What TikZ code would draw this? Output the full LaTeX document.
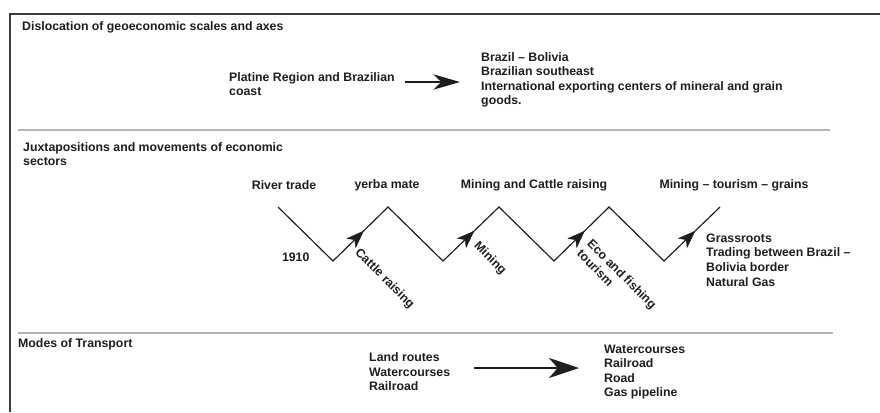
\documentclass[tikz,border=0pt]{standalone}
\usepackage{fontspec}
\setmainfont{Liberation Sans}
\usepackage{tikz}
\usetikzlibrary{positioning,arrows.meta,decorations.markings}
\definecolor{ink}{HTML}{1E1E1E}
\definecolor{rulegray}{HTML}{B4B4B4}
\definecolor{framegray}{HTML}{3A3A3A}
\tikzset{
  txt/.style={inner sep=0pt,align=left,text=ink,font=\bfseries\fontsize{10.5}{12.4}\selectfont},
  head/.style={txt,anchor=west},
  lst/.style={txt,anchor=west},
  diag/.style={txt,rotate=-45,anchor=north west},
  sep/.style={draw=rulegray,line width=1.4pt},
  edge/.style={draw=framegray,line width=1.8pt},
  zig/.style={draw=ink,line width=1pt,line join=miter},
  midar/.style={decoration={markings,mark=at position 0.56 with {\arrow[ink]{Stealth[length=5.4mm,width=4mm,inset=1.5mm]}}},decorate},
  bigar/.style={draw=ink,line width=1.3pt,-{Stealth[length=8mm,width=4.6mm,inset=2.4mm]}},
  fatar/.style={draw=ink,line width=2.2pt,-{Stealth[length=9mm,width=6mm,inset=2.6mm]}},
}

\begin{document}
\begin{tikzpicture}[x=0.03cm,y=-0.03cm,node distance=0.7cm]
\useasboundingbox (0,0) rectangle (880,412);
\draw[edge] (10,412) -- (10,14) -- (880,14);

% ---- Part 1: scales and axes ----
\node[head] (t1) at (22,27) {Dislocation of geoeconomic scales and axes};
\node[lst] (platine) at (229,84) {Platine Region and Brazilian\\coast};
\node[lst] (brazil) at (481,80) {Brazil -- Bolivia\\Brazilian southeast\\International exporting centers of mineral and grain\\goods.};
\draw[bigar,shorten <=3mm,shorten >=6.3mm] ([yshift=0.6mm]platine.east) -- ([yshift=0.6mm]platine.east -| brazil.west);
\draw[sep] (18,130) -- (830,130);

% ---- Part 2: economic sectors ----
\node[head] (t2) at (23,154) {Juxtapositions and movements of economic\\sectors};
\coordinate (z0) at (278,207);
\coordinate (z1) at (333,261);
\coordinate (z2) at (388,207);
\coordinate (z3) at (443,261);
\coordinate (z4) at (499,207);
\coordinate (z5) at (554,261);
\coordinate (z6) at (609,207);
\coordinate (z7) at (664,261);
\coordinate (z8) at (720,207);
\draw[zig] (z0) -- (z1) -- (z2) -- (z3) -- (z4) -- (z5) -- (z6) -- (z7) -- (z8);
\path[midar] (z1) -- (z2);
\path[midar] (z3) -- (z4);
\path[midar] (z5) -- (z6);
\path[midar] (z7) -- (z8);
\node[txt] (river) at (284,185) {River trade};
\node[txt] (yerba) at (387,185) {yerba mate};
\node[txt] (mincat) at (534,185) {Mining and Cattle raising};
\node[txt] (mintour) at (734,185) {Mining -- tourism -- grains};
\node[txt,left=of z1,yshift=1mm] (yr) {1910};
\node[diag] (cattle) at (361,247) {Cattle raising};
\node[diag] (mining) at (480,240) {Mining};
\node[diag] (eco) at (593,238) {Eco and fishing\\tourism};
\node[lst] (grass) at (706,260) {Grassroots\\Trading between Brazil --\\Bolivia border\\Natural Gas};
\draw[sep] (18,333) -- (833,333);

% ---- Part 3: transport ----
\node[head] (t3) at (18,344) {Modes of Transport};
\node[lst] (oldmodes) at (369,372) {Land routes\\Watercourses\\Railroad};
\node[lst] (newmodes) at (604,372) {Watercourses\\Railroad\\Road\\Gas pipeline};
\draw[fatar,shorten <=7.2mm,shorten >=7.5mm] ([yshift=1.2mm]oldmodes.east) -- ([yshift=1.2mm]oldmodes.east -| newmodes.west);
\end{tikzpicture}
\end{document}
